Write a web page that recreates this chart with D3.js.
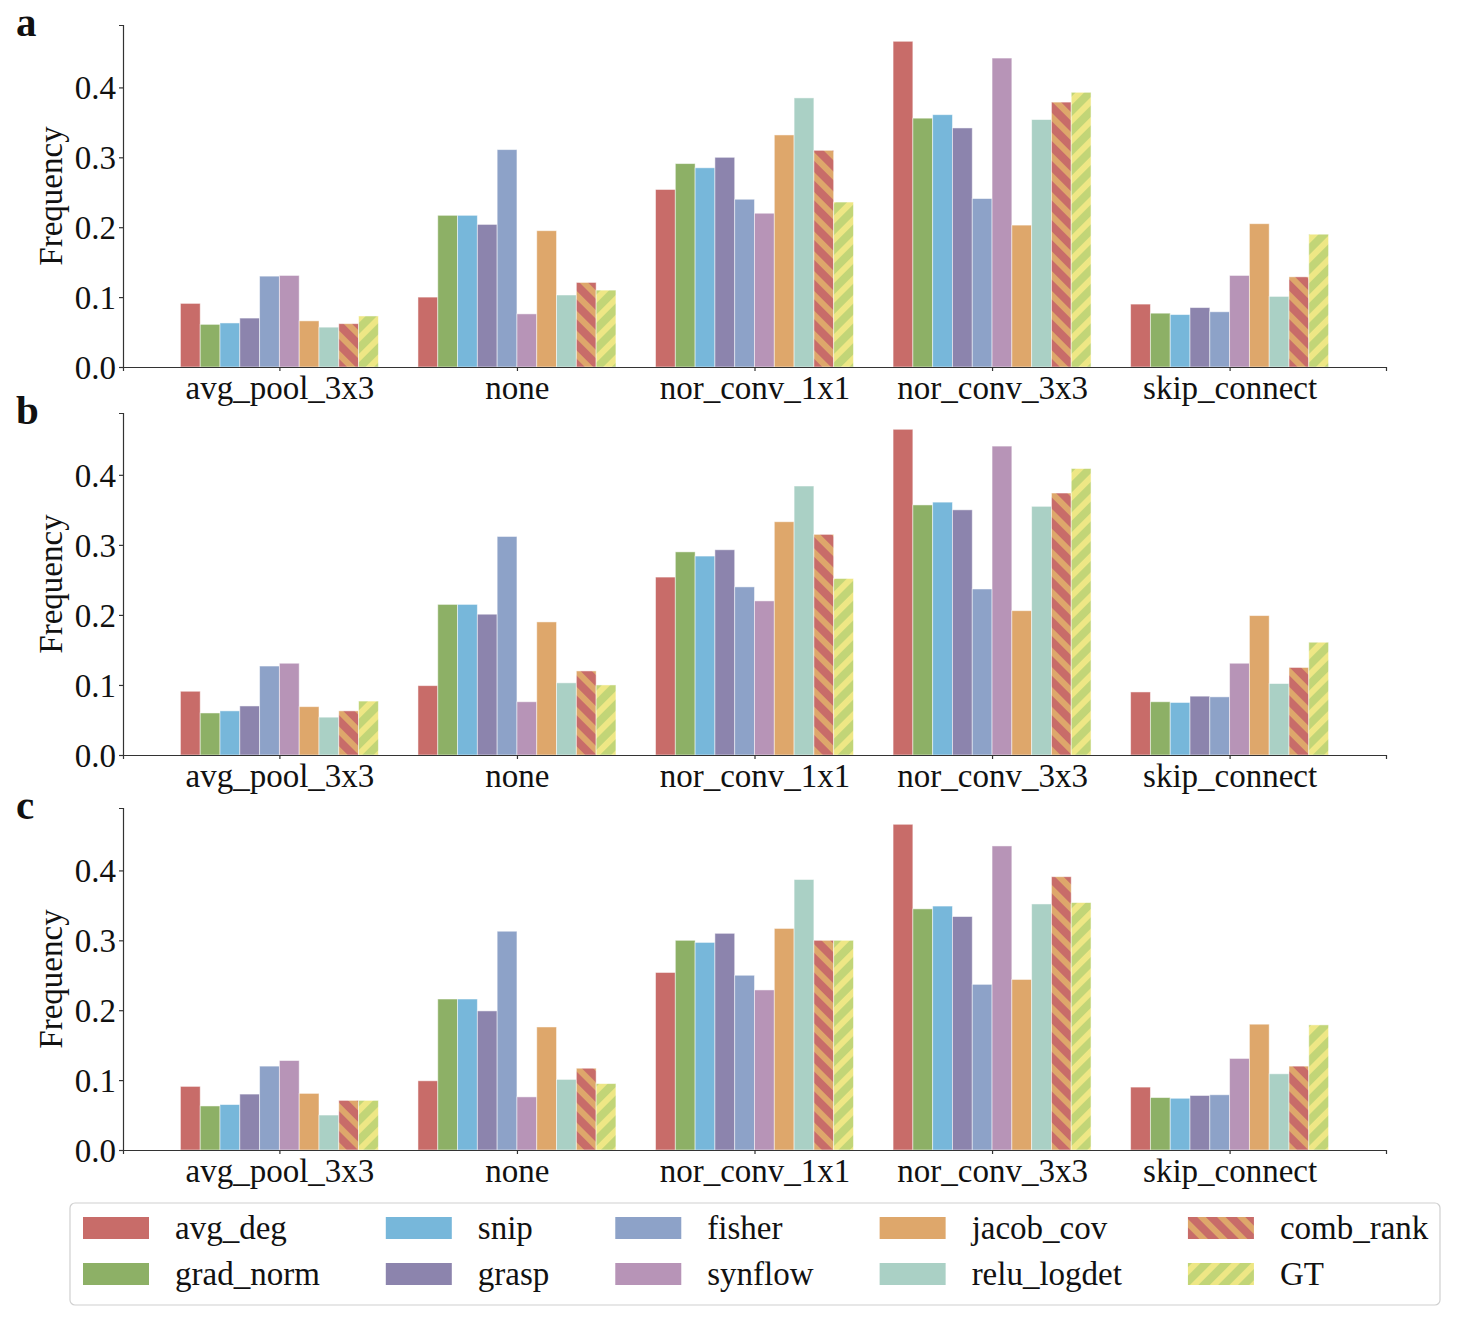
<!DOCTYPE html>
<html>
<head>
<meta charset="utf-8">
<script src="https://cdn.jsdelivr.net/npm/d3@7"></script>
<style>
  body { margin: 0; background: #fff; }
  svg text { font-family: "Liberation Serif", "Times New Roman", serif; fill: #111; }
</style>
</head>
<body>
<svg id="chart"></svg>
<script>
// categories and methods
const categories = ["avg_pool_3x3", "none", "nor_conv_1x1", "nor_conv_3x3", "skip_connect"];
const methods = ["avg_deg", "grad_norm", "snip", "grasp", "fisher", "synflow", "jacob_cov", "relu_logdet", "comb_rank", "GT"];
const colors = ["#c86c69", "#8db066", "#77b7da", "#8c84ad", "#8da2c8", "#b794b7", "#dea76b", "#aad0c5", "#c86c69", "#c2d577"];
const stripeColors = { comb_rank: "#dea76b", GT: "#eee785" };
const yTicks = [0.0, 0.1, 0.2, 0.3, 0.4];

// one row per method, one value per category
const panelA = [
    [0.091, 0.100, 0.254, 0.466, 0.090],
    [0.061, 0.217, 0.291, 0.356, 0.077],
    [0.063, 0.217, 0.285, 0.361, 0.075],
    [0.070, 0.204, 0.300, 0.342, 0.085],
    [0.130, 0.311, 0.240, 0.241, 0.079],
    [0.131, 0.076, 0.220, 0.442, 0.131],
    [0.066, 0.195, 0.332, 0.203, 0.205],
    [0.057, 0.103, 0.385, 0.354, 0.101],
    [0.062, 0.121, 0.310, 0.379, 0.129],
    [0.073, 0.110, 0.236, 0.393, 0.190]
];
const panelB = [
    [0.091, 0.099, 0.254, 0.465, 0.090],
    [0.060, 0.215, 0.290, 0.357, 0.076],
    [0.063, 0.215, 0.284, 0.361, 0.075],
    [0.070, 0.201, 0.293, 0.350, 0.084],
    [0.127, 0.312, 0.240, 0.237, 0.083],
    [0.131, 0.076, 0.220, 0.441, 0.131],
    [0.069, 0.190, 0.333, 0.206, 0.199],
    [0.054, 0.103, 0.384, 0.355, 0.102],
    [0.063, 0.120, 0.315, 0.374, 0.125],
    [0.077, 0.100, 0.252, 0.409, 0.161]
];
const panelC = [
    [0.091, 0.099, 0.254, 0.466, 0.090],
    [0.063, 0.216, 0.300, 0.345, 0.075],
    [0.065, 0.216, 0.297, 0.349, 0.074],
    [0.080, 0.199, 0.310, 0.334, 0.078],
    [0.120, 0.313, 0.250, 0.237, 0.079],
    [0.128, 0.076, 0.229, 0.435, 0.131],
    [0.081, 0.176, 0.317, 0.244, 0.180],
    [0.050, 0.101, 0.387, 0.352, 0.109],
    [0.071, 0.117, 0.300, 0.391, 0.120],
    [0.071, 0.095, 0.300, 0.354, 0.179]
];
const panels = [
    { label: "a", data: panelA, top: 25 },
    { label: "b", data: panelB, top: 413 },
    { label: "c", data: panelC, top: 808 }
];

const width = 1462, height = 1334;
const fs = 33;
const svg = d3.select("#chart").attr("width", width).attr("height", height);

// hatch patterns: comb_rank "\\" and GT "/"
const defs = svg.append("defs");
function hatch(id, base, stripe, angle) {
    const p = defs.append("pattern")
        .attr("id", id)
        .attr("patternUnits", "userSpaceOnUse")
        .attr("width", 14).attr("height", 14)
        .attr("patternTransform", `rotate(${angle})`);
    p.append("rect").attr("width", 14).attr("height", 14).attr("fill", base);
    p.append("rect").attr("width", 6).attr("height", 14).attr("fill", stripe);
}
hatch("hatch-comb", colors[8], stripeColors.comb_rank, -45);
hatch("hatch-gt", colors[9], stripeColors.GT, 45);
const fillOf = i => methods[i] === "comb_rank" ? "url(#hatch-comb)"
    : methods[i] === "GT" ? "url(#hatch-gt)" : colors[i];

const left = 123, right = 1386, plotH = 342;
const barW = 1 / 12;
const x = d3.scaleLinear()
    .domain([-5 * barW - 0.2417, categories.length - 1 + 5 * barW + 0.2417])
    .range([left, right]);

panels.forEach(panel => {
    const g = svg.append("g");
    const ymax = d3.max(panel.data, r => d3.max(r)) * 1.05;
    const y = d3.scaleLinear().domain([0, ymax]).range([panel.top + plotH, panel.top]);

    // bars
    panel.data.forEach((row, i) => {
        g.append("g").selectAll("rect")
            .data(row)
            .join("rect")
            .attr("x", (d, j) => x(j + (i - 5) * barW))
            .attr("width", x(barW) - x(0))
            .attr("y", d => y(d))
            .attr("height", d => y(0) - y(d))
            .attr("fill", fillOf(i))
            .attr("stroke", "#fff")
            .attr("stroke-opacity", 0.55)
            .attr("stroke-width", 0.9);
    });

    // axes
    const xAxis = g.append("g")
        .attr("transform", `translate(0,${y(0)})`)
        .call(d3.axisBottom(x).tickValues(d3.range(categories.length))
            .tickFormat(i => categories[i]).tickSize(4).tickPadding(5));
    xAxis.selectAll("text").attr("font-size", fs).attr("dy", "0.7em");

    const yAxis = g.append("g")
        .attr("transform", `translate(${left},0)`)
        .call(d3.axisLeft(y).tickValues(yTicks).tickFormat(d3.format(".1f")).tickSize(4).tickPadding(3));
    yAxis.selectAll("text").attr("font-size", fs).attr("dy", "0.34em");

    [xAxis, yAxis].forEach(a => {
        a.select(".domain").attr("stroke", "#333").attr("stroke-width", 1.2);
        a.selectAll(".tick line").attr("stroke", "#333").attr("stroke-width", 1.2);
        a.selectAll("text").attr("fill", "#111").style("font-family", "Liberation Serif, serif");
    });

    // y label
    g.append("text")
        .attr("transform", `translate(62,${panel.top + plotH / 2}) rotate(-90)`)
        .attr("text-anchor", "middle")
        .attr("font-size", fs)
        .text("Frequency");

    // panel letter
    g.append("text")
        .attr("x", 16)
        .attr("y", panel.top + 11)
        .attr("font-size", 41)
        .attr("font-weight", "bold")
        .text(panel.label);
});

// legend, 5 columns by 2 rows (column-major order)
const legend = svg.append("g");
legend.append("rect")
    .attr("x", 70).attr("y", 1203)
    .attr("width", 1370).attr("height", 102)
    .attr("rx", 5)
    .attr("fill", "#fff")
    .attr("stroke", "#d0d0d0")
    .attr("stroke-width", 1.2);

const rowY = [1228, 1274];
let colX = 83;
for (let c = 0; c < 5; c++) {
    let maxW = 0;
    for (let r = 0; r < 2; r++) {
        const i = c * 2 + r;
        legend.append("rect")
            .attr("x", colX).attr("y", rowY[r] - 11)
            .attr("width", 66).attr("height", 22)
            .attr("fill", fillOf(i));
        const t = legend.append("text")
            .attr("x", colX + 92).attr("y", rowY[r])
            .attr("dy", "0.34em")
            .attr("font-size", fs)
            .text(methods[i]);
        maxW = Math.max(maxW, t.node().getComputedTextLength());
    }
    colX += 92 + maxW + 66;
}
</script>
</body>
</html>
